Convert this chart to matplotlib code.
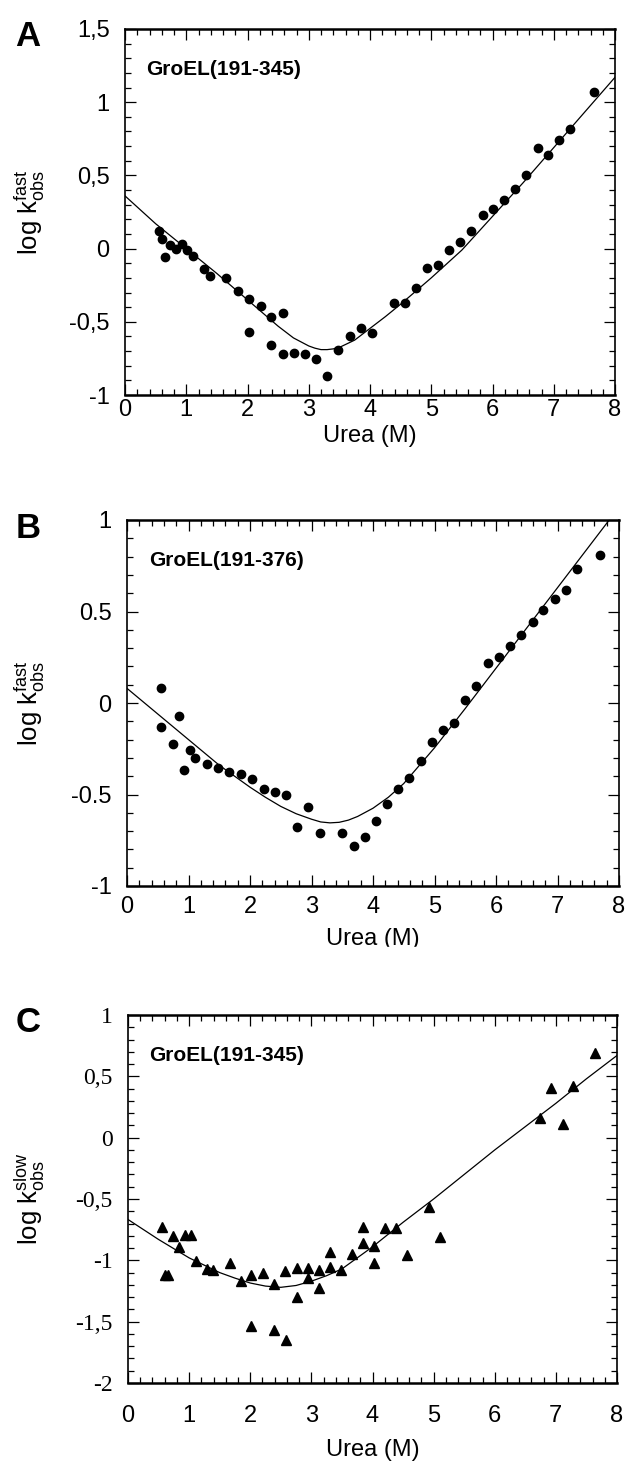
"""Urea dependence of GroEL fragment folding rates (three stacked panels)."""

import matplotlib

matplotlib.use("Agg")
import matplotlib.pyplot as plt
from matplotlib.patches import Rectangle
from matplotlib.ticker import MultipleLocator

plt.rcParams["font.family"] = ["Liberation Sans", "DejaVu Sans"]
plt.rcParams["mathtext.fontset"] = "custom"
plt.rcParams["mathtext.rm"] = "Liberation Sans"
plt.rcParams["mathtext.it"] = "Liberation Sans:italic"

# ---- panel A: GroEL(191-345), fast phase
urea_a = [0.56, 0.61, 0.65, 0.74, 0.83, 0.93, 1.01, 1.11, 1.29, 1.39, 1.65, 1.84,
          2.03, 2.03, 2.22, 2.39, 2.39, 2.58, 2.58, 2.76, 2.94, 3.12, 3.30, 3.48,
          3.67, 3.85, 4.03, 4.39, 4.57, 4.75, 4.93, 5.11, 5.29, 5.47, 5.65, 5.84,
          6.01, 6.19, 6.37, 6.55, 6.74, 6.91, 7.09, 7.27, 7.65]
logk_a = [0.12, 0.065, -0.057, 0.023, 0.0, 0.03, -0.01, -0.05, -0.14, -0.19, -0.20, -0.29,
          -0.345, -0.57, -0.39, -0.47, -0.66, -0.44, -0.72, -0.716, -0.72, -0.757, -0.87, -0.69,
          -0.60, -0.54, -0.575, -0.37, -0.375, -0.27, -0.13, -0.11, -0.007, 0.045, 0.12, 0.23,
          0.27, 0.33, 0.41, 0.50, 0.685, 0.64, 0.74, 0.82, 1.07]
fit_x_a = [0, 0.5, 1, 1.5, 2, 2.25, 2.5, 2.75, 3, 3.1, 3.2, 3.3, 3.4, 3.5, 3.75, 4, 4.25,
           4.5, 5, 5.5, 6, 6.5, 7, 7.5, 8]
fit_y_a = [0.36, 0.17, 0.0, -0.17, -0.35, -0.44, -0.53, -0.61, -0.665, -0.68, -0.69, -0.69,
           -0.685, -0.675, -0.625, -0.545, -0.465, -0.38, -0.20, -0.01, 0.22, 0.45, 0.69,
           0.93, 1.17]

# ---- panel B: GroEL(191-376), fast phase
urea_b = [0.55, 0.55, 0.74, 0.84, 0.93, 1.02, 1.11, 1.30, 1.48, 1.66, 1.85, 2.03,
          2.22, 2.40, 2.58, 2.77, 2.95, 3.14, 3.50, 3.69, 3.87, 4.05, 4.22, 4.41,
          4.59, 4.78, 4.96, 5.14, 5.32, 5.50, 5.68, 5.87, 6.05, 6.23, 6.40, 6.60,
          6.77, 6.96, 7.14, 7.32, 7.69]
logk_b = [0.082, -0.13, -0.224, -0.07, -0.366, -0.257, -0.30, -0.336, -0.357, -0.379, -0.388, -0.417,
          -0.47, -0.489, -0.50, -0.678, -0.568, -0.71, -0.708, -0.783, -0.73, -0.647, -0.55, -0.472,
          -0.412, -0.316, -0.215, -0.147, -0.108, 0.018, 0.094, 0.217, 0.25, 0.31, 0.37, 0.44,
          0.51, 0.57, 0.62, 0.73, 0.81]
fit_x_b = [0, 0.5, 1, 1.5, 2, 2.25, 2.5, 2.75, 3, 3.15, 3.3, 3.45, 3.6, 3.75, 4, 4.25,
           4.5, 5, 5.5, 6, 6.5, 7, 7.5, 8]
fit_y_b = [0.08, -0.06, -0.20, -0.34, -0.46, -0.515, -0.565, -0.605, -0.635, -0.65, -0.655,
           -0.652, -0.64, -0.62, -0.575, -0.515, -0.44, -0.245, -0.03, 0.19, 0.41, 0.63,
           0.85, 1.07]

# ---- panel C: GroEL(191-345), slow phase
urea_c = [0.555, 0.60, 0.66, 0.74, 0.84, 0.93, 1.03, 1.11, 1.29, 1.39, 1.67, 1.85,
          2.02, 2.02, 2.21, 2.39, 2.39, 2.57, 2.59, 2.76, 2.76, 2.94, 2.94, 3.12,
          3.12, 3.30, 3.30, 3.48, 3.66, 3.85, 3.85, 4.03, 4.03, 4.21, 4.39, 4.57,
          4.93, 5.11, 6.74, 6.92, 7.11, 7.28, 7.64]
logk_c = [-0.73, -1.117, -1.117, -0.80, -0.893, -0.79, -0.79, -1.008, -1.07, -1.08, -1.02, -1.17,
          -1.117, -1.535, -1.10, -1.19, -1.57, -1.09, -1.65, -1.06, -1.295, -1.06, -1.145, -1.077,
          -1.227, -0.93, -1.055, -1.08, -0.948, -0.73, -0.858, -0.88, -1.02, -0.74, -0.74, -0.96,
          -0.565, -0.81, 0.164, 0.404, 0.115, 0.424, 0.69]
fit_x_c = [0, 0.5, 1, 1.5, 1.75, 2, 2.25, 2.5, 2.75, 3, 3.25, 3.5, 4, 4.5, 5, 5.5, 6, 6.5,
           7, 7.5, 8]
fit_y_c = [-0.667, -0.83, -0.98, -1.10, -1.145, -1.185, -1.21, -1.22, -1.205, -1.17, -1.125,
           -1.07, -0.89, -0.69, -0.50, -0.30, -0.10, 0.09, 0.28, 0.48, 0.67]

x_ticks = [0, 1, 2, 3, 4, 5, 6, 7, 8]
y_ticks_a = [-1, -0.5, 0, 0.5, 1, 1.5]
y_labels_a = ["-1", "-0,5", "0", "0,5", "1", "1,5"]
y_ticks_b = [-1, -0.5, 0, 0.5, 1]
y_labels_b = ["-1", "-0.5", "0", "0.5", "1"]
y_ticks_c = [-2, -1.5, -1, -0.5, 0, 0.5, 1]
y_labels_c = ["-2", "-1,5", "-1", "-0,5", "0", "0,5", "1"]

W, H = 626, 1468
fig = plt.figure(figsize=(W / 100, H / 100), dpi=100)


def px_axes(left, top, right, bottom):
    return fig.add_axes([left / W, 1 - bottom / H, (right - left) / W, (bottom - top) / H])


def style_axes(ax, ylim, yticks, ylabels, xpad, ypad, yfont):
    ax.set_xlim(0, 8)
    ax.set_ylim(*ylim)
    ax.set_xticks(x_ticks)
    ax.set_xticklabels([str(t) for t in x_ticks], fontsize=17)
    ax.set_yticks(yticks)
    ax.set_yticklabels(ylabels, fontsize=17, family=yfont)
    ax.xaxis.set_minor_locator(MultipleLocator(0.2))
    ax.yaxis.set_minor_locator(MultipleLocator(0.1))
    ax.tick_params(which="both", direction="in", top=True, right=True, width=0.9)
    ax.tick_params(which="major", length=8)
    ax.tick_params(which="minor", length=4)
    ax.tick_params(axis="x", which="major", pad=xpad)
    ax.tick_params(axis="y", which="major", pad=ypad)
    for side, spine in ax.spines.items():
        spine.set_linewidth(1.8 if side in ("bottom", "top") else 1.2)


panels = [
    ("A", (125, 29, 615, 395), urea_a, logk_a, fit_x_a, fit_y_a, "o", (-1, 1.5),
     y_ticks_a, y_labels_a, "GroEL(191-345)", "fast", 3, ["Liberation Sans"], 436),
    ("B", (127, 520, 619, 886), urea_b, logk_b, fit_x_b, fit_y_b, "o", (-1, 1),
     y_ticks_b, y_labels_b, "GroEL(191-376)", "fast", 7, ["Liberation Sans"], 939),
    ("C", (128, 1015, 617, 1383), urea_c, logk_c, fit_x_c, fit_y_c, "^", (-2, 1),
     y_ticks_c, y_labels_c, "GroEL(191-345)", "slow", 16, ["Liberation Serif"], 1450),
]

for (letter, box, xs, ys, fx, fy, marker, ylim, yt, yl, name, phase,
     xpad, yfont, xlabel_y) in panels:
    ax = px_axes(*box)
    ax.plot(fx, fy, color="black", lw=0.9)
    ax.plot(xs, ys, linestyle="none", marker=marker, color="black",
            markersize=6 if marker == "o" else 6.5, clip_on=False)
    style_axes(ax, ylim, yt, yl, xpad, 11, yfont)
    ax.text(0.044, 0.89, name, transform=ax.transAxes, fontsize=15,
            fontweight="bold", va="center", ha="left")
    cy = (box[1] + box[3]) / 2
    fig.text(30 / W, 1 - cy / H, r"log k$^{\mathrm{fast}}_{\mathrm{obs}}$".replace("fast", phase),
             rotation=90, fontsize=18.5, ha="center", va="center")
    fig.text(((box[0] + box[2]) / 2) / W, 1 - xlabel_y / H, "Urea (M)",
             fontsize=17, ha="center", va="center")
    fig.text(28 / W, 1 - (box[1] + 8) / H, letter, fontsize=25,
             fontweight="bold", ha="center", va="center")

# the scan clips the lower edge of panel B's axis title
fig.patches.append(Rectangle((0, 1 - 975 / H), 1, (975 - 947) / H,
                             transform=fig.transFigure, color="white", zorder=10))

fig.savefig("out.png", dpi=100)
plt.close(fig)
